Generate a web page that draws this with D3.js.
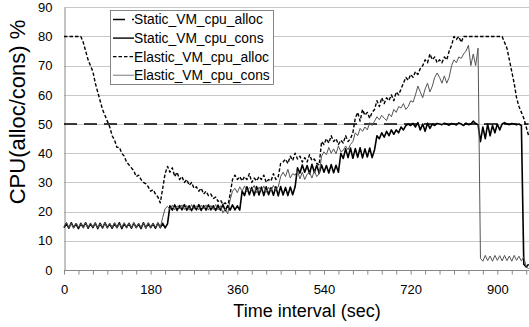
<!DOCTYPE html>
<html><head><meta charset="utf-8">
<script src="https://cdn.jsdelivr.net/npm/d3@7"></script>
<style>body{margin:0;background:#fff;} svg{display:block;font-family:Arial,"Liberation Sans",sans-serif;}</style>
</head><body><svg id="c" width="529" height="327"></svg>
<script>
// ---- data ----
const timeStep = 5; // seconds between samples
const xTickLabels = [0, 180, 360, 540, 720, 900];
const yTickLabels = [0, 10, 20, 30, 40, 50, 60, 70, 80, 90];
const seriesNames = ["Static_VM_cpu_alloc", "Static_VM_cpu_cons", "Elastic_VM_cpu_alloc", "Elastic_VM_cpu_cons"];
const staticAllocTime = [0, 965];
const staticAlloc = [50, 50];
const staticCons = [
  14.5,16,14.3,16.2,14.5,15.8,14.2,16,14.6,16.2,14.3,15.9,14.5,16.1,14.2,16,14.4,16.2,14.5,15.8,14.3,16,
  14.5,16.2,14.2,15.9,14.6,16,14.3,16.1,14.5,15.8,14.2,16.2,14.4,16,14.5,15.9,14.3,16.1,14.5,16,14.4,15.8,
  22,20.5,22.3,20.4,22.1,20.6,22.4,20.5,22,20.3,22.2,20.6,22.4,20.4,22.1,20.5,22.3,20.6,22,20.4,22.2,20.5,22.4,20.3,22.1,20.5,22.3,20.6,22,20.5,
  27,25.5,28.5,25.8,28.3,25.5,28.6,25.7,28.4,25.5,28.5,25.8,28.2,25.6,28.5,25.4,28.6,25.7,28.3,25.5,28.4,25.8,28.5,
  35,33.2,36,33.5,35.8,33,36.2,33.4,35.9,33.1,36,33.5,35.8,33.2,36.1,33.3,35.9,33.5,
  40,38.2,41.5,38.5,41.8,38.3,41.6,38.6,41.9,38.4,41.5,38.7,41.8,38.5,41.2,
  46,45,47,45.5,47.5,46,48,46.5,48,47,49,48,49.5,
  50,49.5,50.2,49,50.5,48,50,47.5,50.3,48.5,50,49.5,50.2,50,49.8,50.3,50,49.6,50.2,50,49.7,50.4,50,49.5,50.3,49.8,50,51,50.2,49.8,
  44,49,45,50,46,49.5,47,50,48,
  50,50.5,50,49.8,50.2,50,49.8,50,49.5,
  2,1,2
];
const elasticAlloc = [
  80,80,80,80,80,80,80,80,
  78,75,72,70,68,64,61,58,55,53,51,49,
  46,44.5,42,42,40,39,37,36,35,34,32,32.5,31,30,29.5,28.5,27,27.5,26,25,23,
  28,33,35.5,33.5,35,32,33.5,31,32,30,31,29,30,28,28.5,27,28,26,27,25.5,26,24.5,25,23.5,24,22.5,23,21.5,
  26,31,32.5,31,32,30.5,32,31,33,30,31.5,30.5,32,31,32.5,30,31,30.5,33,31,32,
  36.5,37,38,36.5,39,37.5,40,38,39,37,38.5,37,39.5,37.5,38,36.5,36,
  44,43,45,43.5,46,44,45,43,44.5,43.5,46,44,45,47,
  52,54,51,55,53,54,52,54,
  55,58,56,59,57,59,58,60,58,61,60,62,
  64,66,65,67,66,68,67,69,70,72,71,74,72,73,71,72,71,73,72,75,77,
  80,79,80,78,80,80,80,80,80,80,80,80,80,80,80,80,80,80,80,80,80,
  78,76,72,68,64,59,56,54,52,49,46
];
const elasticCons = [
  14.8,16.3,14.5,16,14.4,16.1,14.6,15.9,14.3,16.2,14.5,16,14.7,16.1,14.4,15.8,14.6,16.2,14.3,16,14.5,
  16.1,14.4,15.9,14.6,16.2,14.3,16,14.5,16.1,14.4,15.9,14.6,16,14.3,16.2,14.5,15.9,14.6,16.1,14.5,
  18,21,21.8,
  20.8,22.2,20.6,22,20.9,22.3,20.7,22.1,20.5,22.4,20.8,22,20.6,22.2,20.9,22.3,20.5,22.1,20.7,22.4,20.6,22,19.5,21,19.2,
  24,27,28,26.5,28.5,27,28.8,26.8,28.2,27.5,29,26.5,28.4,27,28.8,26.6,28.3,27.2,29,27.5,28.5,
  32,33.5,32,34.5,31.5,33,32.5,34,31.2,33.5,31,32.8,33.5,31.5,34,32,33,
  39,40.5,39.5,42,40,41.5,39.8,42.5,40.5,41,42.5,41.2,43,44,
  47,46,48.5,47.5,49,48,50.5,49.5,
  51,52.5,51.5,53,52,51.2,53.5,52.5,55,54,56,55.5,
  57,55,56,58,57.5,60,63,61,59,62,64,61,63,66,67.5,66,64,66.5,64,66,70,72,71,73,72.5,74,75,77,70,74,70,76,
  4,
  3,5,3.2,4.8,3,5,3.3,4.9,3.1,5,3.2,4.8,3,5,3.3,4.7,3.1,4.5,
  1,0.5
];

// ---- chart ----
const svg = d3.select("#c");
const x = d3.scaleLinear().domain([0, 960]).range([64, 526.2]);
const y = d3.scaleLinear().domain([0, 90]).range([270, 7.3]);

// gridlines
svg.append("g").selectAll("line").data(yTickLabels.filter(v => v > 0)).join("line")
  .attr("x1", 64).attr("x2", 529)
  .attr("y1", d => Math.round(y(d)) + 0.5).attr("y2", d => Math.round(y(d)) + 0.5)
  .attr("stroke", "#c8c8c8").attr("stroke-width", 1.2);

// y axis
const yAxis = svg.append("g").attr("transform", "translate(64.5,0)")
  .call(d3.axisLeft(y).tickValues(yTickLabels).tickSize(0).tickPadding(12));
yAxis.select(".domain").attr("stroke", "#888");
yAxis.selectAll("text").attr("font-size", 13).attr("fill", "#000").attr("font-family", "Arial, Liberation Sans, sans-serif");

// x axis with minor ticks
const xAxis = svg.append("g").attr("transform", "translate(0,270.5)")
  .call(d3.axisBottom(x).tickValues(d3.range(0, 961, 30)).tickSize(4).tickSizeOuter(0)
    .tickFormat(d => xTickLabels.includes(d) ? d : ""));
xAxis.select(".domain").attr("stroke", "#888").attr("d", "M64,0H529");
xAxis.selectAll(".tick line").attr("stroke", "#888");
xAxis.selectAll("text").attr("font-size", 13).attr("fill", "#000").attr("dy", "1.25em").attr("font-family", "Arial, Liberation Sans, sans-serif");

// axis titles
svg.append("text").attr("x", 307).attr("y", 317).attr("text-anchor", "middle")
  .attr("font-size", 18).text("Time interval (sec)");
svg.append("text").attr("transform", "translate(25,112) rotate(-90)").attr("text-anchor", "middle")
  .attr("font-size", 22).text("CPU(alloc/cons) %");

const line = d3.line().x(d => x(d[0])).y(d => y(d[1]));
const toPts = arr => arr.map((v, i) => [i * timeStep, v]);

const styles = [
  {stroke: "#000", width: 1.6, dash: "13,7"},
  {stroke: "#000", width: 1.6, dash: null},
  {stroke: "#000", width: 1.4, dash: "3.5,2"},
  {stroke: "#555", width: 1, dash: null}
];
const series = [
  staticAllocTime.map((t, i) => [t, staticAlloc[i]]),
  toPts(staticCons),
  toPts(elasticAlloc),
  toPts(elasticCons)
];
const drawOrder = [0, 1, 3, 2];
drawOrder.forEach(k => {
  svg.append("path").datum(series[k]).attr("d", line)
    .attr("fill", "none").attr("stroke", styles[k].stroke)
    .attr("stroke-width", styles[k].width)
    .attr("stroke-dasharray", styles[k].dash)
    .attr("stroke-linejoin", "round");
});

// legend
const lg = svg.append("g");
lg.append("rect").attr("x", 110.5).attr("y", 10.5).attr("width", 163).attr("height", 74)
  .attr("fill", "#fff").attr("stroke", "#666").attr("stroke-width", 0.8);
const legendStyles = [
  {stroke: "#000", width: 1.4, dash: "12,7"},
  {stroke: "#000", width: 1.4, dash: null},
  {stroke: "#000", width: 1.3, dash: "3.5,2"},
  {stroke: "#999", width: 1.3, dash: null}
];
seriesNames.forEach((name, i) => {
  const cy = 19.5 + i * 18.6;
  lg.append("line").attr("x1", 113).attr("x2", 134).attr("y1", cy).attr("y2", cy)
    .attr("stroke", legendStyles[i].stroke).attr("stroke-width", legendStyles[i].width)
    .attr("stroke-dasharray", legendStyles[i].dash);
  lg.append("text").attr("x", 134).attr("y", cy).attr("dy", "0.35em")
    .attr("font-size", 13.8).text(name);
});
</script></body></html>
